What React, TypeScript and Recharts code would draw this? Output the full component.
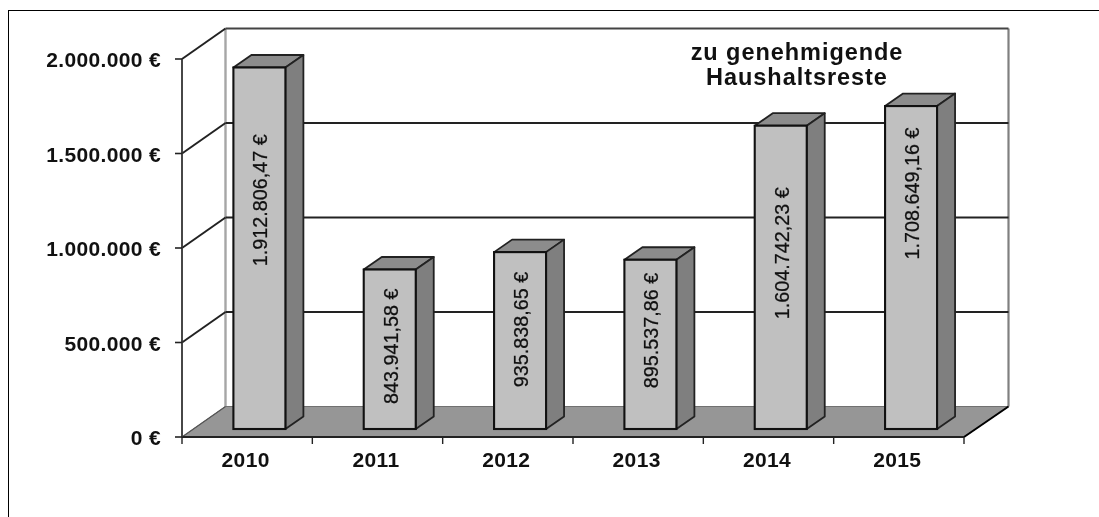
import React from 'react';
import { BarChart, Bar, XAxis, YAxis, CartesianGrid } from 'recharts';

const years = ['2010', '2011', '2012', '2013', '2014', '2015'];
const amounts = [1912806.47, 843941.58, 935838.65, 895537.86, 1604742.23, 1708649.16];
const amountLabels = ['1.912.806,47 €', '843.941,58 €', '935.838,65 €', '895.537,86 €', '1.604.742,23 €', '1.708.649,16 €'];
const yTicks = [0, 500000, 1000000, 1500000, 2000000];
const titleLines = ['zu genehmigende', 'Haushaltsreste'];
const data = years.map((year, i) => ({ year, amount: amounts[i], label: amountLabels[i] }));

// label centre relative to the bar's front-face centre
const labelShift = [-48, -3, -11, -14, -24, -74];

const W = 1099, H = 517;
const LEFT = 182, RIGHT = 964, TOP = 59, BOTTOM = 437;
const WALL_DX = 43.5, WALL_DY = -30.5;
const BAR_DX = 12.4, BAR_DY = -8, DEPTH_X = 18, DEPTH_Y = -12.5;
const BAND = (RIGHT - LEFT) / years.length;
const FONT = '"Liberation Sans", Arial, sans-serif';
const DARK = '#222';

const gridLine = (props: any) => {
  const { y1, index } = props;
  const y = y1;
  const isFloor = Math.abs(y - BOTTOM) < 1;
  const isTop = Math.abs(y - TOP) < 1;
  const bx = LEFT + WALL_DX, by = y + WALL_DY;
  return (
    <g key={`grid-${index}`}>
      {isFloor && (
        <g>
          <line x1={bx} y1={TOP + WALL_DY} x2={bx} y2={by} stroke="#a6a6a6" strokeWidth={2.4} />
          <line x1={RIGHT + WALL_DX + 1} y1={TOP + WALL_DY} x2={RIGHT + WALL_DX + 1} y2={by} stroke="#808080" strokeWidth={2.2} />
          <polygon points={`${LEFT},${y} ${bx},${by} ${RIGHT + WALL_DX + 1},${by} ${RIGHT},${y}`} fill="#969696" stroke="#707070" strokeWidth={1} />
          <line x1={RIGHT} y1={y} x2={RIGHT + WALL_DX + 1} y2={by} stroke="#000" strokeWidth={2} />
          <line x1={LEFT} y1={y} x2={bx} y2={by} stroke="#555" strokeWidth={1.2} />
        </g>
      )}
      {!isFloor && (
        <g>
          <line x1={LEFT} y1={y} x2={bx} y2={by} stroke={DARK} strokeWidth={2} />
          <line x1={bx} y1={by} x2={RIGHT + WALL_DX + 1} y2={by} stroke={isTop ? '#444' : DARK} strokeWidth={2} />
        </g>
      )}
    </g>
  );
};

const YTick = (props: any) => {
  const { y, payload } = props;
  const text = payload.value === 0 ? '0 €' : `${payload.value.toLocaleString('de-DE')} €`;
  return (
    <g>
      <line x1={LEFT - 7} y1={y} x2={LEFT} y2={y} stroke={DARK} strokeWidth={1.6} />
      <text x={161} y={y + 8} textAnchor="end" fontFamily={FONT} fontSize={21} fontWeight="bold" letterSpacing={0.35} fill="#111">{text}</text>
    </g>
  );
};

const XTick = (props: any) => {
  const { x, payload, index } = props;
  const left = x - BAND / 2, right = x + BAND / 2;
  return (
    <g>
      <line x1={left} y1={BOTTOM} x2={left} y2={BOTTOM + 7} stroke={DARK} strokeWidth={1.4} />
      {index === years.length - 1 && <line x1={right} y1={BOTTOM} x2={right} y2={BOTTOM + 7} stroke={DARK} strokeWidth={1.4} />}
      <text x={x - 1.5} y={467} textAnchor="middle" fontFamily={FONT} fontSize={21} fontWeight="bold" letterSpacing={0.35} fill="#111">{payload.value}</text>
    </g>
  );
};

const Bar3D = (props: any) => {
  const { x, y, width, height, index, payload } = props;
  const fx = x + BAR_DX, fy = y + BAR_DY, w = width, h = height;
  const cx = fx + w / 2 + 1, cy = fy + h / 2 + labelShift[index];
  return (
    <g>
      <polygon points={`${fx},${fy} ${fx + DEPTH_X},${fy + DEPTH_Y} ${fx + w + DEPTH_X},${fy + DEPTH_Y} ${fx + w},${fy}`} fill="#8c8c8c" stroke="#222" strokeWidth={1.8} strokeLinejoin="round" />
      <polygon points={`${fx + w},${fy} ${fx + w + DEPTH_X},${fy + DEPTH_Y} ${fx + w + DEPTH_X},${fy + h + DEPTH_Y} ${fx + w},${fy + h}`} fill="#7f7f7f" stroke="#222" strokeWidth={1.8} strokeLinejoin="round" />
      <rect x={fx} y={fy} width={w} height={h} fill="#c0c0c0" stroke="#111" strokeWidth={2.1} />
      <text x={cx} y={cy} transform={`rotate(-90 ${cx} ${cy})`} textAnchor="middle" dominantBaseline="central" fontFamily={FONT} fontSize={19.8} fill="#111" stroke="#111" strokeWidth={0.25}>{payload.label}</text>
    </g>
  );
};

export default function App() {
  return (
    <div style={{ position: 'absolute', left: 0, top: 0, width: W, height: H, overflow: 'hidden', background: '#fff', filter: 'blur(0.5px)' }}>
      <div style={{ position: 'absolute', left: 8, top: 10, width: W, height: H, borderLeft: '1.5px solid #000', borderTop: '1.5px solid #000' }} />
      <div style={{ position: 'absolute', left: 0, top: 0 }}>
        <BarChart width={W} height={H} data={data} margin={{ left: 0, right: W - RIGHT, top: TOP, bottom: 0 }} barCategoryGap={BAND - 52}>
          <CartesianGrid horizontal={gridLine} vertical={false} />
          <XAxis dataKey="year" height={H - BOTTOM} tick={XTick} tickLine={false} axisLine={{ stroke: DARK, strokeWidth: 2.2 }} interval={0} />
          <YAxis width={LEFT} domain={[0, 2000000]} ticks={yTicks} tick={YTick} tickLine={false} axisLine={{ stroke: '#333', strokeWidth: 1.8 }} />
          <Bar dataKey="amount" barSize={52} shape={Bar3D} isAnimationActive={false} />
          <text textAnchor="middle" fontFamily={FONT} fontSize={23.5} fontWeight="bold" letterSpacing={0.95} fill="#111">
            <tspan x={797} y={60}>{titleLines[0]}</tspan>
            <tspan x={797} y={85}>{titleLines[1]}</tspan>
          </text>
        </BarChart>
      </div>
    </div>
  );
}
